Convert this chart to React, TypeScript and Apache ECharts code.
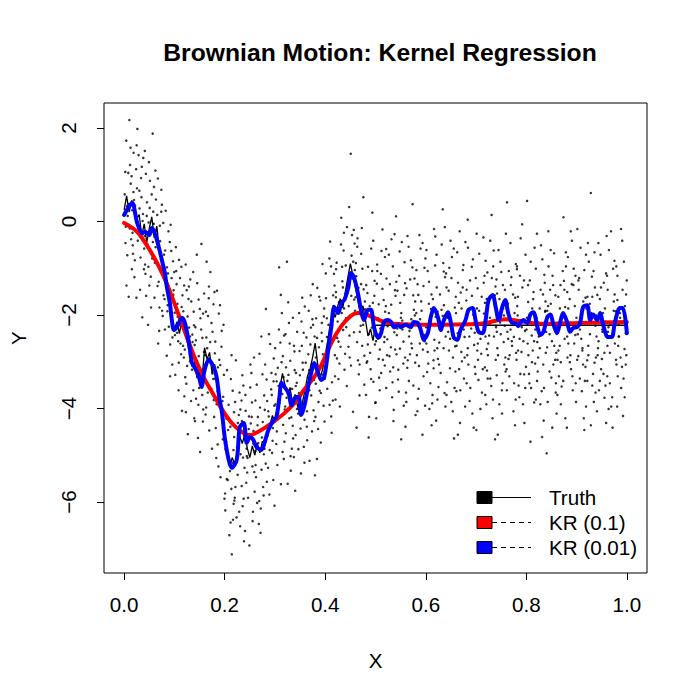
import React, { useEffect, useRef } from "react";
import * as echarts from "echarts";

const FONT = "Liberation Sans";

const chartTitle = "Brownian Motion: Kernel Regression";
const xTicks = [0, 0.2, 0.4, 0.6, 0.8, 1.0];
const yTicks = [-6, -4, -2, 0, 2];
const legendLabels = ["Truth", "KR (0.1)", "KR (0.01)"];
const legendFill = ["#000000", "#ff0000", "#0000ff"];
const legendDashed = [false, true, true];

// noisy observations [x, y], first batch
const noisyObsA: [number, number][] = [
[0.0132,0.81],[0.0027,-0.46],[0.0188,1.47],[0.0071,0.12],[0.0154,-1.02],[0.0043,1.73],[0.0105,2.17],[0.0166,-0.24],[0.0012,0.58],[0.0091,-1.61],[0.0149,0.97],[0.0058,0.33],[0.0177,-0.69],[0.0118,1.21],[0.0035,-0.11],[0.0197,0.46],[0.0083,1.04],[0.0140,-0.38],
[0.0264,1.98],[0.0213,-0.83],[0.0345,0.52],[0.0292,-0.27],[0.0381,1.36],[0.0227,0.09],[0.0318,-1.46],[0.0256,0.71],[0.0399,-0.58],[0.0239,1.12],[0.0307,0.28],[0.0362,-2.05],[0.0283,-0.14],[0.0337,0.93],[0.0205,-1.19],[0.0374,0.16],[0.0249,1.63],[0.0326,-0.77],
[0.0417,-0.92],[0.0568,1.88],[0.0455,0.41],[0.0502,-1.37],[0.0589,-0.05],[0.0433,1.02],[0.0521,-0.66],[0.0476,-2.21],[0.0549,0.58],[0.0408,-0.31],[0.0493,1.27],[0.0536,-1.84],[0.0462,-0.48],[0.0579,0.21],[0.0425,-1.12],[0.0514,0.87],[0.0487,-0.02],[0.0558,-0.79],
[0.0633,0.47],[0.0784,-1.58],[0.0612,-0.88],[0.0751,0.36],[0.0697,-2.34],[0.0645,-0.19],[0.0728,-1.07],[0.0671,0.92],[0.0793,-0.71],[0.0604,-1.63],[0.0716,-0.42],[0.0659,0.14],[0.0767,-2.02],[0.0688,-1.29],[0.0741,0.68],[0.0626,-0.55],[0.0779,-0.03],[0.0703,-1.84],
[0.0815,-0.62],[0.0962,-2.48],[0.0873,-1.11],[0.0926,-0.07],[0.0848,-2.87],[0.0991,-1.74],[0.0836,-1.39],[0.0908,-0.44],[0.0957,-3.06],[0.0861,-1.92],[0.0944,-1.21],[0.0827,0.23],[0.0889,-2.25],[0.0973,-0.85],[0.0804,-1.66],[0.0917,-2.63],[0.0852,-0.98],[0.0984,-1.47],
[0.1043,-1.34],[0.1187,-2.91],[0.1092,-0.82],[0.1126,-2.17],[0.1018,-3.28],[0.1161,-1.58],[0.1075,-2.56],[0.1139,-0.97],[0.1007,-1.95],[0.1198,-3.74],[0.1054,-2.38],[0.1112,-1.21],[0.1173,-2.66],[0.1029,-0.55],[0.1088,-3.02],[0.1145,-1.83],[0.1066,-2.04],[0.1152,-4.05],
[0.1237,-3.47],[0.1281,-1.66],[0.1362,-2.58],[0.1209,-2.13],[0.1394,-4.21],[0.1316,-1.24],[0.1253,-3.09],[0.1348,-2.84],[0.1225,-0.92],[0.1377,-3.61],[0.1294,-2.27],[0.1336,-1.71],[0.1268,-4.55],[0.1309,-2.99],[0.1384,-1.93],[0.1216,-3.33],[0.1357,-2.42],[0.1245,-1.47],
[0.1418,-2.26],[0.1574,-4.02],[0.1446,-0.71],[0.1523,-3.41],[0.1485,-2.88],[0.1592,-1.54],[0.1431,-3.79],[0.1557,-2.49],[0.1469,-4.63],[0.1506,-1.87],[0.1581,-3.15],[0.1403,-2.64],[0.1538,-0.48],[0.1492,-3.56],[0.1454,-1.32],[0.1566,-4.28],[0.1517,-2.07],[0.1477,-3.92],
[0.1627,-1.93],[0.1783,-3.82],[0.1652,-2.71],[0.1716,-1.08],[0.1694,-4.47],[0.1608,-3.19],[0.1759,-2.36],[0.1641,-0.86],[0.1735,-3.58],[0.1668,-2.02],[0.1797,-1.51],[0.1619,-4.13],[0.1702,-2.93],[0.1772,-3.37],[0.1683,-1.64],[0.1748,-4.86],[0.1636,-2.48],[0.1725,-3.04],
[0.1814,-2.57],[0.1962,-4.66],[0.1839,-3.91],[0.1907,-1.79],[0.1876,-5.24],[0.1985,-3.28],[0.1823,-4.42],[0.1941,-2.34],[0.1858,-3.63],[0.1996,-5.93],[0.1893,-2.96],[0.1928,-4.08],[0.1847,-1.48],[0.1971,-3.75],[0.1804,-2.82],[0.1917,-5.47],[0.1866,-3.12],[0.1953,-4.29],
[0.2036,-4.22],[0.2178,-6.04],[0.2061,-5.53],[0.2124,-3.37],[0.2093,-6.71],[0.2017,-4.87],[0.2155,-5.16],[0.2142,-7.12],[0.2078,-3.92],[0.2189,-4.61],[0.2008,-5.82],[0.2113,-4.39],[0.2166,-6.38],[0.2047,-3.18],[0.2105,-5.34],[0.2193,-5.97],[0.2029,-4.71],[0.2137,-2.86],
[0.2213,-5.68],[0.2372,-3.51],[0.2246,-4.83],[0.2308,-6.52],[0.2281,-4.14],[0.2394,-5.27],[0.2224,-2.97],[0.2357,-6.09],[0.2269,-4.46],[0.2335,-3.83],[0.2202,-5.91],[0.2317,-4.98],[0.2385,-6.84],[0.2258,-5.42],[0.2296,-3.66],[0.2343,-4.27],[0.2236,-6.33],[0.2366,-5.05],
[0.2417,-4.05],[0.2563,-6.21],[0.2448,-5.37],[0.2532,-3.24],[0.2471,-4.69],[0.2596,-5.78],[0.2405,-6.62],[0.2519,-4.32],[0.2584,-2.91],[0.2456,-5.06],[0.2543,-3.87],[0.2429,-5.59],[0.2574,-4.48],[0.2492,-6.93],[0.2508,-3.55],[0.2437,-4.86],[0.2551,-5.24],[0.2483,-4.17],
[0.2623,-5.47],[0.2786,-3.72],[0.2654,-4.36],[0.2718,-6.14],[0.2692,-2.83],[0.2607,-4.91],[0.2765,-5.68],[0.2638,-3.49],[0.2741,-4.62],[0.2679,-6.47],[0.2797,-4.03],[0.2615,-5.21],[0.2703,-3.98],[0.2774,-5.86],[0.2667,-4.74],[0.2729,-2.46],[0.2646,-6.02],[0.2758,-4.29],
[0.2834,-3.38],[0.2967,-5.53],[0.2812,-4.71],[0.2905,-2.62],[0.2878,-4.17],[0.2991,-6.08],[0.2846,-3.84],[0.2943,-4.95],[0.2821,-1.87],[0.2925,-3.59],[0.2863,-5.27],[0.2958,-4.42],[0.2804,-3.06],[0.2889,-5.84],[0.2976,-2.93],[0.2851,-4.58],[0.2937,-3.71],[0.2895,-4.89],
[0.3027,-4.76],[0.3182,-2.44],[0.3056,-3.13],[0.3119,-5.62],[0.3091,-3.88],[0.3004,-2.71],[0.3163,-4.35],[0.3048,-5.21],[0.3137,-1.96],[0.3072,-3.52],[0.3195,-4.02],[0.3015,-3.27],[0.3108,-2.59],[0.3176,-5.08],[0.3039,-4.49],[0.3146,-3.69],[0.3083,-0.98],[0.3157,-2.88],
[0.3216,-4.53],[0.3388,-2.78],[0.3247,-3.41],[0.3315,-5.33],[0.3279,-2.17],[0.3204,-3.96],[0.3362,-4.64],[0.3238,-0.86],[0.3341,-3.58],[0.3293,-2.61],[0.3376,-5.04],[0.3221,-3.12],[0.3327,-4.19],[0.3264,-1.73],[0.3399,-3.83],[0.3253,-5.61],[0.3305,-2.98],[0.3354,-4.37],
[0.3418,-3.24],[0.3587,-5.16],[0.3442,-2.36],[0.3509,-4.43],[0.3476,-3.67],[0.3593,-1.82],[0.3403,-5.76],[0.3551,-3.02],[0.3461,-4.11],[0.3528,-2.14],[0.3574,-4.82],[0.3434,-3.45],[0.3517,-5.39],[0.3489,-2.77],[0.3562,-3.91],[0.3411,-4.57],[0.3543,-1.63],[0.3496,-3.29],
[0.3627,-2.48],[0.3781,-4.27],[0.3656,-3.34],[0.3712,-1.58],[0.3689,-5.12],[0.3604,-3.86],[0.3758,-2.21],[0.3641,-4.68],[0.3733,-3.05],[0.3672,-1.91],[0.3796,-5.43],[0.3619,-3.57],[0.3705,-2.63],[0.3767,-4.04],[0.3682,-3.18],[0.3744,-2.09],[0.3633,-4.39],[0.3721,-3.72],
[0.3819,-2.07],[0.3968,-3.94],[0.3843,-1.42],[0.3911,-4.73],[0.3874,-2.69],[0.3992,-3.36],[0.3806,-4.18],[0.3947,-0.91],[0.3861,-3.11],[0.3928,-2.38],[0.3835,-5.08],[0.3979,-1.86],[0.3889,-3.62],[0.3953,-2.84],[0.3812,-3.47],[0.3903,-1.69],[0.3857,-4.44],[0.3937,-2.56],
[0.4024,-3.06],[0.4186,-1.37],[0.4052,-2.62],[0.4119,-4.17],[0.4083,-0.79],[0.4007,-2.93],[0.4163,-1.81],[0.4041,-3.58],[0.4137,-2.21],[0.4098,-0.43],[0.4195,-3.31],[0.4015,-1.64],[0.4128,-4.52],[0.4069,-2.74],[0.4174,-1.12],[0.4033,-2.07],[0.4151,-3.83],[0.4106,-2.46],
[0.4216,-1.02],[0.4383,-3.17],[0.4247,-2.14],[0.4319,0.08],[0.4272,-1.73],[0.4205,-3.81],[0.4366,-0.62],[0.4238,-2.49],[0.4341,-1.28],[0.4291,-3.96],[0.4395,-2.83],[0.4227,-0.88],[0.4328,-1.96],[0.4262,-3.37],[0.4357,-2.32],[0.4214,-1.51],[0.4304,-2.68],[0.4372,-0.24],
[0.4419,-2.26],[0.4584,-0.47],[0.4443,-1.53],[0.4512,-3.08],[0.4476,0.31],[0.4593,-1.91],[0.4408,-0.94],[0.4508,1.45],[0.4461,-2.68],[0.4537,-1.22],[0.4429,-3.52],[0.4568,-0.18],[0.4491,-2.03],[0.4553,-4.07],[0.4437,-1.39],[0.4524,-0.73],[0.4482,-2.44],[0.4576,-1.67],
[0.4617,-1.17],[0.4779,-2.87],[0.4643,-0.36],[0.4706,-2.23],[0.4681,-3.72],[0.4602,-1.62],[0.4758,0.52],[0.4635,-2.58],[0.4739,-1.01],[0.4668,-3.27],[0.4794,-1.88],[0.4624,-4.41],[0.4715,-0.69],[0.4687,-2.36],[0.4764,-1.45],[0.4652,-2.97],[0.4728,-0.14],[0.4697,-1.96],
[0.4823,-3.02],[0.4982,-1.27],[0.4847,-2.63],[0.4915,-0.58],[0.4871,-4.18],[0.4806,-1.98],[0.4958,-3.43],[0.4839,-1.53],[0.4937,0.19],[0.4892,-2.81],[0.4996,-3.88],[0.4815,-1.36],[0.4926,-2.27],[0.4864,-4.62],[0.4973,-2.04],[0.4852,-0.97],[0.4903,-3.16],[0.4948,-1.74],
[0.5027,-1.33],[0.5184,-3.08],[0.5052,-2.07],[0.5119,-0.63],[0.5086,-2.74],[0.5003,-3.87],[0.5163,-1.68],[0.5041,-2.42],[0.5138,-0.17],[0.5071,-3.34],[0.5192,-1.93],[0.5015,-4.21],[0.5107,-1.12],[0.5174,-2.58],[0.5064,-1.77],[0.5149,-2.96],[0.5033,-0.92],[0.5095,-2.29],
[0.5213,-3.56],[0.5387,-1.47],[0.5241,-2.24],[0.5318,-0.38],[0.5279,-2.88],[0.5206,-1.81],[0.5362,-4.03],[0.5234,-2.52],[0.5345,-0.96],[0.5291,-3.21],[0.5398,-1.59],[0.5227,-2.13],[0.5331,-3.76],[0.5266,-0.71],[0.5374,-2.37],[0.5219,-1.22],[0.5306,-2.69],[0.5352,-3.12],
[0.5424,-2.43],[0.5578,-0.87],[0.5447,-3.38],[0.5513,-1.96],[0.5486,-2.72],[0.5409,0.11],[0.5562,-3.94],[0.5437,-1.48],[0.5535,-2.31],[0.5472,-1.16],[0.5596,-4.39],[0.5418,-2.84],[0.5523,-0.44],[0.5491,-1.74],[0.5557,-2.57],[0.5453,-3.17],[0.5587,-1.32],[0.5506,-2.06],
[0.5632,-3.13],[0.5781,-2.01],[0.5658,-0.54],[0.5714,-2.61],[0.5689,-1.24],[0.5607,-3.66],[0.5763,-1.89],[0.5641,-2.97],[0.5738,0.37],[0.5676,-2.34],[0.5797,-4.14],[0.5618,-1.43],[0.5726,-2.71],[0.5664,-3.41],[0.5751,-1.58],[0.5623,-2.19],[0.5704,-0.83],[0.5789,-3.02],
[0.5814,-1.04],[0.5979,-2.56],[0.5842,-3.79],[0.5908,-1.71],[0.5873,-0.29],[0.5805,-2.21],[0.5956,-3.31],[0.5837,-1.34],[0.5934,-4.56],[0.5886,-2.09],[0.5993,-0.79],[0.5823,-2.86],[0.5917,-1.91],[0.5861,-3.58],[0.5968,-2.43],[0.5851,-1.57],[0.5942,-2.74],[0.5896,-0.58],
[0.6021,-2.41],[0.6186,-0.94],[0.6049,-3.04],[0.6113,-1.56],[0.6072,-4.01],[0.6008,-2.26],[0.6164,-0.16],[0.6038,-2.79],[0.6142,-1.66],[0.6091,-3.46],[0.6197,-2.04],[0.6013,-0.61],[0.6128,-3.89],[0.6064,-1.29],[0.6171,-2.53],[0.6027,-3.22],[0.6105,-1.87],[0.6153,-2.97],
[0.6229,-2.71],[0.6382,-1.19],[0.6253,-3.54],[0.6317,-0.49],[0.6285,-2.14],[0.6206,-4.26],[0.6361,-1.79],[0.6241,-2.94],[0.6348,-0.89],[0.6296,-3.24],[0.6394,-2.46],[0.6217,-1.41],[0.6337,0.26],[0.6268,-2.59],[0.6373,-3.67],[0.6235,-1.93],[0.6309,-2.33],[0.6357,-1.07],
[0.6412,-3.71],[0.6578,-1.84],[0.6446,-2.36],[0.6519,-0.76],[0.6481,-3.14],[0.6403,-1.11],[0.6563,-4.64],[0.6437,-2.04],[0.6541,-2.91],[0.6492,-0.41],[0.6597,-1.61],[0.6424,-3.44],[0.6528,-2.21],[0.6468,-0.99],[0.6584,-2.67],[0.6455,-1.48],[0.6507,-3.86],[0.6553,-2.49],
[0.6616,-2.54],[0.6783,-3.96],[0.6642,-1.31],[0.6707,-2.79],[0.6674,-0.21],[0.6601,-1.96],[0.6759,-3.36],[0.6633,-2.39],[0.6736,-1.04],[0.6681,-4.31],[0.6794,-2.11],[0.6625,-0.66],[0.6718,-2.99],[0.6657,-1.74],[0.6772,-2.47],[0.6609,-3.63],[0.6695,-1.52],[0.6748,-0.93],
[0.6812,-1.46],[0.6987,-3.26],[0.6839,-0.56],[0.6904,-2.29],[0.6871,-3.84],[0.6807,-1.69],[0.6962,-2.64],[0.6834,0.04],[0.6943,-1.99],[0.6886,-3.56],[0.6995,-1.21],[0.6826,-2.86],[0.6927,-4.11],[0.6859,-1.89],[0.6974,-2.38],[0.6847,-3.06],[0.6915,-0.97],[0.6958,-2.17],
[0.7024,-2.76],[0.7191,-0.84],[0.7047,-3.39],[0.7112,-1.61],[0.7079,-2.19],[0.7006,-4.46],[0.7168,-1.16],[0.7039,-2.96],[0.7146,-0.34],[0.7088,-2.51],[0.7183,-3.71],[0.7016,-1.86],[0.7127,-2.36],[0.7064,-0.69],[0.7175,-3.12],[0.7031,-1.43],[0.7103,-2.83],[0.7157,-1.97],
[0.7217,-3.19],[0.7386,-1.39],[0.7242,-2.61],[0.7309,0.14],[0.7276,-2.06],[0.7204,-3.91],[0.7363,-1.76],[0.7236,-2.86],[0.7341,-0.96],[0.7284,-3.36],[0.7397,-2.26],[0.7225,-1.09],[0.7328,-4.21],[0.7261,-2.44],[0.7372,-1.58],[0.7213,-2.73],[0.7302,-3.52],[0.7351,-0.62],
[0.7418,-1.54],[0.7583,-2.91],[0.7447,-0.61],[0.7513,-3.61],[0.7479,-2.16],[0.7406,-1.24],[0.7562,-3.06],[0.7432,-4.56],[0.7538,-1.86],[0.7491,-2.41],[0.7594,-0.26],[0.7424,-2.71],[0.7526,-3.46],[0.7465,-1.66],[0.7571,-2.23],[0.7411,-3.29],[0.7502,-1.08],[0.7549,-2.58],
[0.7623,-2.36],[0.7788,-3.81],[0.7652,-1.06],[0.7716,-2.66],[0.7684,-0.46],[0.7608,-3.16],[0.7765,-1.96],[0.7639,-2.51],[0.7743,-4.06],[0.7691,-1.36],[0.7796,-2.81],[0.7616,0.41],[0.7727,-2.11],[0.7661,-3.31],[0.7779,-1.63],[0.7645,-2.94],[0.7703,-1.19],[0.7752,-2.47],
[0.7819,-1.81],[0.7984,-0.71],[0.7846,-3.51],[0.7908,-2.26],[0.7873,-1.16],[0.7805,-2.96],[0.7962,-4.31],[0.7834,-1.61],[0.7941,-2.56],[0.7887,-0.36],[0.7993,-3.11],[0.7827,-2.01],[0.7921,-1.41],[0.7861,-3.76],[0.7974,-2.34],[0.7812,-1.02],[0.7904,-2.79],[0.7956,-3.27],
[0.8027,-2.61],[0.8189,-1.01],[0.8053,-3.26],[0.8116,-1.86],[0.8082,-4.71],[0.8004,-2.31],[0.8164,-0.56],[0.8041,-2.86],[0.8143,-1.51],[0.8094,-3.56],[0.8197,-2.11],[0.8015,0.44],[0.8128,-2.76],[0.8069,-1.26],[0.8176,-3.04],[0.8036,-1.72],[0.8107,-2.44],[0.8155,-3.87],
[0.8213,-3.41],[0.8382,-1.71],[0.8247,-2.46],[0.8318,-0.81],[0.8279,-3.91],[0.8205,-2.06],[0.8366,-1.31],[0.8234,-2.91],[0.8345,-4.26],[0.8292,-0.51],[0.8394,-2.36],[0.8226,-3.21],[0.8331,-1.56],[0.8268,-2.71],[0.8373,-1.93],[0.8218,-2.58],[0.8305,-3.63],[0.8357,-1.14],
[0.8416,-1.91],[0.8584,-3.66],[0.8441,-0.96],[0.8509,-2.56],[0.8473,-1.46],[0.8404,-4.96],[0.8563,-2.21],[0.8438,-0.21],[0.8537,-3.06],[0.8486,-1.76],[0.8596,-2.81],[0.8425,-3.86],[0.8521,-1.16],[0.8462,-2.41],[0.8578,-1.58],[0.8413,-2.69],[0.8498,-3.34],[0.8552,-0.68],
[0.8621,-2.96],[0.8786,-0.66],[0.8648,-3.31],[0.8712,-2.01],[0.8679,-1.36],[0.8603,-4.11],[0.8761,-2.51],[0.8636,-1.61],[0.8739,0.09],[0.8685,-3.01],[0.8793,-2.16],[0.8617,-3.71],[0.8724,-1.06],[0.8664,-2.66],[0.8772,-1.83],[0.8629,-2.38],[0.8702,-3.53],[0.8748,-1.27],
[0.8814,-1.51],[0.8982,-3.46],[0.8843,-2.26],[0.8907,-0.41],[0.8876,-2.86],[0.8806,-4.41],[0.8964,-1.81],[0.8835,-2.61],[0.8942,-1.01],[0.8889,-3.16],[0.8996,-2.06],[0.8827,-0.76],[0.8923,-3.61],[0.8862,-1.66],[0.8975,-2.43],[0.8818,-2.91],[0.8903,-1.34],[0.8953,-2.18],
[0.9023,-2.41],[0.9187,-3.96],[0.9051,-1.21],[0.9114,-2.76],[0.9078,-0.56],[0.9007,-2.16],[0.9164,-3.41],[0.9041,-1.46],[0.9143,-4.21],[0.9092,-2.51],[0.9196,-1.86],[0.9015,-0.16],[0.9128,-3.06],[0.9066,-2.31],[0.9177,-1.63],[0.9034,-2.88],[0.9105,-3.63],[0.9153,-1.04],
[0.9216,-1.61],[0.9384,-2.91],[0.9243,-0.86],[0.9312,-3.51],[0.9277,-2.11],[0.9283,0.61],[0.9364,-1.41],[0.9232,-2.66],[0.9343,-3.86],[0.9291,-1.96],[0.9396,-2.46],[0.9224,-0.46],[0.9327,-3.26],[0.9263,-1.76],[0.9375,-2.23],[0.9211,-2.97],[0.9304,-1.18],[0.9356,-3.02],
[0.9418,-2.86],[0.9586,-1.11],[0.9445,-3.61],[0.9511,-2.31],[0.9476,-0.71],[0.9404,-4.06],[0.9563,-1.86],[0.9437,-2.56],[0.9541,-1.31],[0.9487,-3.16],[0.9597,-0.31],[0.9425,-2.71],[0.9524,-1.96],[0.9462,-3.41],[0.9576,-2.14],[0.9413,-1.57],[0.9503,-2.94],[0.9554,-3.77],
[0.9617,-1.46],[0.9783,-2.96],[0.9642,-0.61],[0.9708,-3.76],[0.9673,-2.21],[0.9605,-1.16],[0.9761,-2.61],[0.9636,-4.01],[0.9739,-1.71],[0.9684,-0.21],[0.9792,-3.06],[0.9624,-2.36],[0.9726,-1.01],[0.9663,-2.81],[0.9774,-1.92],[0.9611,-3.31],[0.9697,-2.47],[0.9752,-0.84],
[0.9818,-3.31],[0.9984,-1.56],[0.9843,-2.46],[0.9907,-0.41],[0.9874,-2.91],[0.9806,-3.96],[0.9962,-1.81],[0.9835,-2.21],[0.9941,-0.86],[0.9886,-3.56],[0.9997,-1.26],[0.9827,-2.66],[0.9923,-4.16],[0.9861,-1.96],[0.9976,-2.39],[0.9812,-1.68],[0.9903,-3.11],[0.9953,-2.73]
];

// noisy observations [x, y], second batch
const noisyObsB: [number, number][] = [
[0.0064,-0.72],[0.0159,0.24],[0.0023,1.06],[0.0112,-0.15],[0.0186,0.63],[0.0047,-1.37],[0.0128,1.58],[0.0095,0.37],[0.0171,-0.51],
[0.0271,-0.41],[0.0352,1.17],[0.0218,0.34],[0.0394,-1.02],[0.0303,0.66],[0.0245,-1.63],[0.0368,0.01],[0.0287,1.42],[0.0331,-0.22],
[0.0449,0.12],[0.0531,-1.18],[0.0412,1.51],[0.0572,-0.44],[0.0483,-0.97],[0.0595,0.74],[0.0438,-1.59],[0.0509,0.29],[0.0553,-0.16],
[0.0664,-1.38],[0.0739,0.21],[0.0608,-0.27],[0.0787,-1.12],[0.0692,-0.58],[0.0623,1.09],[0.0756,-1.91],[0.0711,-0.09],[0.0677,-2.61],
[0.0866,-1.79],[0.0938,-0.63],[0.0811,-2.31],[0.0997,-1.08],[0.0882,-0.21],[0.0951,-2.06],[0.0841,-1.28],[0.0914,-3.31],[0.0978,-1.57],
[0.1061,-1.76],[0.1133,-2.84],[0.1012,-2.43],[0.1194,-1.37],[0.1083,-3.61],[0.1157,-2.24],[0.1037,-1.06],[0.1121,-2.61],[0.1178,-1.92],
[0.1263,-2.03],[0.1331,-3.84],[0.1207,-2.74],[0.1389,-2.22],[0.1288,-1.39],[0.1352,-3.17],[0.1229,-4.08],[0.1311,-2.46],[0.1374,-1.08],
[0.1463,-3.06],[0.1532,-2.31],[0.1409,-4.27],[0.1589,-2.79],[0.1482,-1.67],[0.1554,-3.71],[0.1427,-2.54],[0.1511,-4.93],[0.1571,-1.97],
[0.1664,-3.66],[0.1738,-2.17],[0.1613,-2.86],[0.1791,-4.18],[0.1688,-1.39],[0.1756,-3.25],[0.1632,-3.98],[0.1711,-2.58],[0.1777,-1.77],
[0.1861,-4.77],[0.1936,-2.68],[0.1809,-3.36],[0.1989,-4.41],[0.1884,-1.97],[0.1956,-3.84],[0.1832,-5.06],[0.1912,-3.07],[0.1977,-2.21],
[0.2068,-4.46],[0.2133,-5.72],[0.2012,-6.18],[0.2186,-4.08],[0.2087,-5.07],[0.2159,-3.62],[0.2041,-5.51],[0.2118,-6.44],[0.2174,-4.89],
[0.2263,-4.31],[0.2338,-5.66],[0.2207,-3.86],[0.2391,-4.58],[0.2289,-6.21],[0.2352,-3.29],[0.2228,-5.14],[0.2313,-4.02],[0.2377,-5.93],
[0.2466,-5.91],[0.2537,-4.18],[0.2413,-3.71],[0.2589,-5.36],[0.2478,-4.44],[0.2556,-6.41],[0.2441,-5.02],[0.2512,-3.06],[0.2568,-4.75],
[0.2661,-4.18],[0.2734,-5.31],[0.2612,-3.83],[0.2791,-4.86],[0.2687,-5.98],[0.2752,-3.27],[0.2631,-4.52],[0.2713,-6.66],[0.2779,-4.98],
[0.2868,-4.06],[0.2931,-3.24],[0.2817,-5.18],[0.2987,-3.94],[0.2881,-2.41],[0.2953,-4.69],[0.2838,-5.57],[0.2912,-4.33],[0.2972,-3.42],
[0.3063,-4.12],[0.3131,-3.01],[0.3011,-3.91],[0.3188,-4.71],[0.3079,-2.31],[0.3152,-4.93],[0.3034,-3.42],[0.3117,-1.57],[0.3171,-3.33],
[0.3268,-3.28],[0.3336,-4.86],[0.3209,-2.41],[0.3392,-3.18],[0.3286,-4.21],[0.3357,-2.06],[0.3231,-3.77],[0.3311,-5.02],[0.3379,-2.66],
[0.3466,-4.87],[0.3534,-2.66],[0.3414,-3.52],[0.3588,-4.24],[0.3481,-1.96],[0.3556,-3.17],[0.3437,-4.01],[0.3512,-3.74],[0.3571,-2.38],
[0.3663,-2.84],[0.3737,-4.49],[0.3612,-3.02],[0.3789,-2.46],[0.3686,-3.61],[0.3752,-1.34],[0.3638,-4.06],[0.3716,-2.27],[0.3774,-3.39],
[0.3866,-3.86],[0.3932,-2.17],[0.3814,-2.91],[0.3986,-4.28],[0.3881,-1.61],[0.3957,-3.28],[0.3838,-2.49],[0.3914,-3.67],[0.3973,-2.03],
[0.4064,-2.21],[0.4135,-3.44],[0.4011,-1.11],[0.4191,-2.86],[0.4087,-3.92],[0.4158,-1.58],[0.4036,-2.47],[0.4116,-0.96],[0.4179,-2.02],
[0.4264,-2.57],[0.4336,-0.97],[0.4212,-1.62],[0.4388,-2.14],[0.4283,-3.04],[0.4351,-1.41],[0.4233,-2.93],[0.4314,-0.49],[0.4376,-1.86],
[0.4467,-1.81],[0.4533,-0.29],[0.4412,-2.07],[0.4589,-1.04],[0.4486,-2.91],[0.4557,-0.86],[0.4433,-0.12],[0.4518,-1.59],[0.4572,-2.37],
[0.4661,-1.42],[0.4736,-2.66],[0.4611,-0.89],[0.4789,-1.71],[0.4684,-3.06],[0.4753,-2.21],[0.4637,-0.54],[0.4713,-1.34],[0.4777,-3.49],
[0.4866,-2.41],[0.4934,-1.06],[0.4812,-3.71],[0.4989,-2.63],[0.4884,-1.81],[0.4955,-0.41],[0.4836,-2.99],[0.4912,-3.37],[0.4977,-1.59],
[0.5063,-2.94],[0.5137,-1.44],[0.5011,-2.56],[0.5188,-0.76],[0.5084,-3.61],[0.5156,-2.16],[0.5036,-1.06],[0.5113,-3.24],[0.5179,-2.47],
[0.5266,-1.96],[0.5339,-3.44],[0.5212,-0.59],[0.5391,-2.74],[0.5286,-1.34],[0.5357,-4.27],[0.5231,-2.86],[0.5313,-1.78],[0.5378,-0.27],
[0.5462,-3.64],[0.5533,-2.12],[0.5414,-1.29],[0.5588,-2.91],[0.5481,-0.64],[0.5554,-3.04],[0.5433,-2.29],[0.5511,-4.66],[0.5571,-1.57],
[0.5667,-2.46],[0.5734,-0.98],[0.5613,-3.86],[0.5789,-1.71],[0.5686,-2.84],[0.5753,-3.51],[0.5637,-0.31],[0.5712,-2.09],[0.5776,-1.22],
[0.5865,-3.09],[0.5937,-0.46],[0.5811,-1.96],[0.5986,-3.94],[0.5882,-2.61],[0.5954,-1.38],[0.5833,-4.06],[0.5915,-2.36],[0.5973,-0.99],
[0.6061,-1.76],[0.6134,-3.71],[0.6012,-2.61],[0.6189,-0.32],[0.6088,-2.21],[0.6156,-3.14],[0.6037,-1.06],[0.6116,-4.36],[0.6174,-2.76],
[0.6264,-3.06],[0.6338,-2.02],[0.6214,-0.71],[0.6391,-3.96],[0.6283,-1.56],[0.6354,-2.71],[0.6232,-3.81],[0.6313,-1.89],[0.6378,-0.12],
[0.6461,-2.76],[0.6537,-4.06],[0.6413,-1.41],[0.6589,-3.21],[0.6484,-2.51],[0.6556,-0.58],[0.6431,-2.06],[0.6511,-1.21],[0.6572,-3.56],
[0.6663,-3.16],[0.6734,-1.41],[0.6612,-2.66],[0.6788,-0.44],[0.6686,-3.61],[0.6755,-2.31],[0.6638,-4.56],[0.6712,-1.86],[0.6773,-2.91],
[0.6866,-2.46],[0.6938,-0.81],[0.6813,-3.46],[0.6989,-2.06],[0.6881,-1.26],[0.6953,-4.41],[0.6835,-2.71],[0.6918,-1.59],[0.6976,-3.11],
[0.7061,-1.91],[0.7133,-3.16],[0.7012,-0.26],[0.7188,-2.46],[0.7086,-4.01],[0.7152,-1.31],[0.7035,-2.61],[0.7117,-3.66],[0.7177,-1.74],
[0.7264,-2.21],[0.7337,-3.81],[0.7211,-1.66],[0.7391,-2.96],[0.7283,-0.41],[0.7356,-2.46],[0.7232,-3.36],[0.7314,-1.21],[0.7378,-4.66],
[0.7463,-3.91],[0.7534,-1.36],[0.7413,-2.36],[0.7587,-3.21],[0.7484,-0.86],[0.7553,-2.01],[0.7436,-2.86],[0.7517,-4.11],[0.7574,-1.46],
[0.7667,-2.86],[0.7735,-1.56],[0.7612,-3.61],[0.7791,-0.91],[0.7686,-2.31],[0.7757,-3.46],[0.7634,-1.76],[0.7711,-2.56],[0.7774,-4.36],
[0.7866,-2.51],[0.7933,-3.91],[0.7814,-0.96],[0.7988,-2.16],[0.7881,-3.26],[0.7953,-1.26],[0.7836,-2.76],[0.7917,-0.06],[0.7979,-3.56],
[0.8062,-3.46],[0.8137,-1.66],[0.8011,-2.06],[0.8189,-3.81],[0.8087,-0.86],[0.8154,-2.56],[0.8034,-1.36],[0.8113,-3.01],[0.8178,-2.31],
[0.8266,-1.86],[0.8336,-3.06],[0.8211,-0.26],[0.8387,-2.81],[0.8284,-1.46],[0.8352,-3.56],[0.8236,-2.16],[0.8313,-4.61],[0.8376,-1.91],
[0.8462,-3.21],[0.8533,-1.36],[0.8414,-2.21],[0.8589,-3.46],[0.8484,-0.61],[0.8556,-2.66],[0.8433,-1.81],[0.8516,-4.41],[0.8573,-2.96],
[0.8667,-1.86],[0.8734,-3.41],[0.8613,-2.26],[0.8788,-0.96],[0.8686,-3.91],[0.8756,-1.46],[0.8637,-2.76],[0.8714,-2.06],[0.8776,-4.21],
[0.8865,-3.01],[0.8936,-1.36],[0.8812,-2.46],[0.8989,-3.86],[0.8883,-0.21],[0.8953,-2.61],[0.8834,-1.86],[0.8916,-3.31],[0.8977,-1.16],
[0.9064,-3.36],[0.9133,-1.71],[0.9012,-2.96],[0.9187,-0.71],[0.9085,-2.21],[0.9153,-4.46],[0.9035,-1.26],[0.9117,-2.71],[0.9176,-3.11],
[0.9265,-2.41],[0.9336,-1.06],[0.9213,-3.41],[0.9389,-2.01],[0.9283,-4.36],[0.9356,-0.66],[0.9234,-2.86],[0.9312,-1.61],[0.9377,-3.66],
[0.9463,-1.66],[0.9535,-3.26],[0.9414,-2.06],[0.9588,-4.31],[0.9484,-1.41],[0.9553,-2.81],[0.9433,-0.46],[0.9514,-2.36],[0.9574,-3.51],
[0.9662,-3.46],[0.9737,-1.91],[0.9613,-2.66],[0.9789,-0.96],[0.9688,-3.96],[0.9756,-1.56],[0.9634,-2.26],[0.9715,-4.41],[0.9776,-2.06],
[0.9866,-2.06],[0.9933,-3.36],[0.9812,-1.16],[0.9988,-2.86],[0.9884,-0.16],[0.9956,-3.76],[0.9837,-2.46],[0.9914,-1.46],[0.9977,-3.06]
];

// true Brownian path [x, y]
const truthPath: [number, number][] = [
[0.000,0.25],[0.005,0.55],[0.010,0.20],[0.015,0.45],[0.020,0.30],[0.025,0.05],[0.030,0.15],[0.035,-0.30],[0.040,-0.05],[0.045,-0.45],
[0.050,-0.15],[0.055,0.10],[0.060,-0.35],[0.065,-0.10],[0.070,-0.60],[0.075,-0.85],[0.080,-1.05],[0.085,-1.45],[0.090,-1.70],[0.095,-2.05],
[0.100,-2.30],[0.105,-2.15],[0.110,-2.40],[0.115,-2.10],[0.120,-2.35],[0.125,-2.55],[0.130,-2.80],[0.135,-3.10],[0.140,-3.00],[0.145,-3.35],
[0.150,-3.20],[0.155,-3.40],[0.160,-2.70],[0.165,-2.95],[0.170,-2.80],[0.175,-3.25],[0.180,-3.05],[0.185,-3.45],[0.190,-3.70],[0.195,-4.10],
[0.200,-4.55],[0.205,-4.95],[0.210,-5.25],[0.215,-5.05],[0.220,-5.20],[0.225,-4.95],[0.230,-4.60],[0.235,-4.75],[0.240,-4.55],[0.245,-4.85],
[0.250,-5.05],[0.255,-4.80],[0.260,-5.00],[0.265,-4.75],[0.270,-4.95],[0.275,-4.70],[0.280,-4.80],[0.285,-4.50],[0.290,-4.35],[0.295,-4.15],
[0.300,-4.30],[0.305,-3.95],[0.310,-3.55],[0.315,-3.25],[0.320,-3.50],[0.325,-3.70],[0.330,-3.55],[0.335,-3.90],[0.340,-3.70],[0.345,-3.95],
[0.350,-4.15],[0.355,-3.85],[0.360,-3.60],[0.365,-3.30],[0.370,-3.15],[0.375,-2.90],[0.380,-2.60],[0.385,-3.05],[0.390,-3.35],[0.395,-3.15],
[0.400,-2.85],[0.405,-2.55],[0.410,-2.20],[0.415,-1.90],[0.420,-2.05],[0.425,-1.80],[0.430,-1.65],[0.435,-1.85],[0.440,-1.50],[0.445,-1.20],
[0.450,-0.90],[0.455,-1.15],[0.460,-1.40],[0.465,-1.70],[0.470,-1.95],[0.475,-1.80],[0.480,-2.10],[0.485,-2.45],[0.490,-2.30],[0.495,-2.55],
[0.500,-2.22],[1.000,-2.22]
];

// kernel regression, bandwidth 0.1
const kr01: [number, number][] = [
[0.000,-0.03],[0.026,-0.22],[0.051,-0.61],[0.071,-1.00],[0.085,-1.33],[0.099,-1.72],[0.119,-2.30],[0.139,-2.88],[0.158,-3.33],[0.184,-3.82],
[0.194,-4.01],[0.214,-4.31],[0.234,-4.50],[0.248,-4.57],[0.259,-4.54],[0.279,-4.42],[0.299,-4.27],[0.319,-4.10],[0.339,-3.88],[0.358,-3.60],
[0.378,-3.33],[0.392,-3.08],[0.412,-2.60],[0.432,-2.24],[0.451,-2.02],[0.465,-1.96],[0.477,-1.97],[0.497,-2.06],[0.517,-2.15],[0.537,-2.19],
[0.590,-2.21],[0.709,-2.19],[0.758,-2.09],[0.788,-2.13],[0.828,-2.19],[0.907,-2.17],[1.000,-2.15]
];

// kernel regression, bandwidth 0.01
const kr001: [number, number][] = [
[0.000,0.14],[0.008,0.29],[0.016,0.40],[0.026,-0.03],[0.036,-0.25],[0.042,-0.22],[0.050,-0.29],[0.055,-0.14],[0.061,-0.25],[0.069,-0.55],
[0.075,-0.82],[0.081,-1.10],[0.085,-1.40],[0.091,-1.74],[0.095,-2.11],[0.099,-2.32],[0.105,-2.26],[0.115,-2.06],[0.121,-2.17],[0.129,-2.60],
[0.135,-3.03],[0.141,-3.13],[0.149,-3.33],[0.154,-3.54],[0.160,-3.18],[0.168,-2.96],[0.178,-3.11],[0.184,-3.33],[0.190,-3.82],[0.194,-4.03],
[0.200,-4.61],[0.208,-5.10],[0.214,-5.27],[0.224,-5.10],[0.230,-4.40],[0.238,-4.31],[0.244,-4.74],[0.250,-4.61],[0.257,-4.67],[0.263,-4.82],
[0.273,-4.89],[0.279,-4.74],[0.287,-4.46],[0.297,-4.25],[0.303,-4.18],[0.309,-3.75],[0.313,-3.45],[0.319,-3.54],[0.327,-3.67],[0.333,-3.93],
[0.339,-3.78],[0.347,-3.75],[0.352,-4.14],[0.358,-3.97],[0.366,-3.54],[0.372,-3.24],[0.378,-3.03],[0.386,-3.24],[0.392,-3.39],[0.398,-3.33],
[0.406,-2.75],[0.412,-2.26],[0.418,-1.83],[0.426,-1.96],[0.432,-1.74],[0.438,-1.68],[0.446,-1.40],[0.451,-1.10],[0.457,-1.19],[0.465,-1.53],
[0.471,-1.89],[0.477,-2.11],[0.485,-1.89],[0.491,-1.89],[0.497,-2.26],[0.505,-2.49],[0.511,-2.39],[0.517,-2.15],[0.525,-2.11],[0.531,-2.15],
[0.537,-2.26],[0.545,-2.21],[0.550,-2.26],[0.560,-2.21],[0.570,-2.26],[0.576,-2.15],[0.584,-2.17],[0.590,-2.32],[0.596,-2.53],[0.604,-2.39],
[0.610,-2.04],[0.616,-1.85],[0.624,-2.04],[0.630,-2.32],[0.636,-2.11],[0.644,-1.94],[0.650,-2.17],[0.656,-2.49],[0.663,-2.53],[0.669,-2.32],
[0.679,-2.11],[0.685,-1.89],[0.693,-1.85],[0.699,-2.11],[0.705,-2.36],[0.713,-2.39],[0.719,-2.11],[0.725,-1.68],[0.733,-1.57],[0.739,-1.83],
[0.745,-2.11],[0.752,-1.83],[0.758,-1.68],[0.764,-1.96],[0.772,-2.17],[0.778,-2.17],[0.784,-2.24],[0.788,-2.17],[0.794,-2.11],[0.802,-2.17],
[0.808,-1.99],[0.814,-1.94],[0.822,-2.26],[0.828,-2.43],[0.834,-2.36],[0.842,-2.04],[0.848,-1.99],[0.853,-2.17],[0.861,-2.39],[0.867,-2.17],
[0.873,-1.96],[0.881,-2.15],[0.887,-2.36],[0.893,-2.28],[0.901,-2.26],[0.907,-2.17],[0.913,-1.83],[0.921,-1.79],[0.927,-2.11],[0.933,-1.99],
[0.941,-2.11],[0.947,-1.96],[0.952,-2.17],[0.962,-2.47],[0.970,-2.47],[0.976,-2.17],[0.986,-1.85],[0.992,-1.85],[1.000,-2.39]
];

const LABEL_SIZE = 20.6;

function buildLegend() {
  const elems: any[] = [];
  const x0 = 477;
  const y0 = 497.5;
  const step = 25;
  legendLabels.forEach((lab, i) => {
    const cy = y0 + i * step;
    elems.push({
      type: "line",
      shape: { x1: 492, y1: cy, x2: 531, y2: cy },
      style: { stroke: "#000", lineWidth: 1, lineDash: legendDashed[i] ? [5, 4] : null },
    });
    elems.push({
      type: "rect",
      shape: { x: x0, y: cy - 6, width: 15, height: 12 },
      style: { fill: legendFill[i], stroke: "#000", lineWidth: 1 },
    });
    elems.push({
      type: "text",
      x: 549,
      y: cy,
      style: { text: lab, font: `${LABEL_SIZE}px "${FONT}"`, fill: "#000", verticalAlign: "middle", align: "left" },
    });
  });
  return elems;
}

export default function App() {
  const ref = useRef<HTMLDivElement>(null);
  useEffect(() => {
    if (!ref.current) return;
    const chart = echarts.init(ref.current, undefined, { renderer: "svg" });
    const textBase = { fontFamily: FONT, fontSize: LABEL_SIZE, color: "#000" };
    chart.setOption({
      animation: false,
      backgroundColor: "#ffffff",
      title: {
        text: chartTitle,
        left: 375,
        top: 35,
        textAlign: "center",
        textStyle: { fontFamily: FONT, fontSize: 24.7, fontWeight: "bold", color: "#000" },
      },
      grid: {
        left: 102,
        top: 103,
        width: 545,
        height: 470,
        show: true,
        borderColor: "#000",
        borderWidth: 1,
        backgroundColor: "transparent",
      },
      xAxis: {
        type: "value",
        min: -0.04,
        max: 1.04,
        axisLine: { show: false, onZero: false },
        splitLine: { show: false },
        axisTick: { show: true, length: 7, customValues: xTicks, lineStyle: { color: "#000", width: 1 } },
        axisLabel: { ...textBase, customValues: xTicks, margin: 21, formatter: (v: number) => v.toFixed(1) },
        name: "X",
        nameLocation: "middle",
        nameGap: 77,
        nameTextStyle: textBase,
      },
      yAxis: {
        type: "value",
        min: -7.52,
        max: 2.535,
        axisLine: { show: false, onZero: false },
        splitLine: { show: false },
        axisTick: { show: true, length: 7, customValues: yTicks, lineStyle: { color: "#000", width: 1 } },
        axisLabel: {
          ...textBase,
          customValues: yTicks,
          rotate: 90,
          margin: 25,
          formatter: (v: number) => String(v).replace("-", "\u2212"),
        },
        name: "Y",
        nameLocation: "middle",
        nameGap: 75,
        nameRotate: 90,
        nameTextStyle: textBase,
      },
      series: [
        {
          name: "Observations",
          type: "scatter",
          data: noisyObsA.concat(noisyObsB),
          symbol: "circle",
          symbolSize: 2.5,
          itemStyle: { color: "#000" },
          silent: true,
          large: false,
        },
        {
          name: "Truth",
          type: "line",
          data: truthPath,
          showSymbol: false,
          lineStyle: { color: "#000", width: 1.3 },
          silent: true,
        },
        {
          name: "KR (0.1)",
          type: "line",
          data: kr01,
          showSymbol: false,
          smooth: 0.3,
          lineStyle: { color: "#ff0000", width: 4, cap: "round", join: "round" },
          silent: true,
        },
        {
          name: "KR (0.01)",
          type: "line",
          data: kr001,
          showSymbol: false,
          smooth: 0.3,
          lineStyle: { color: "#0000ff", width: 4, cap: "round", join: "round" },
          silent: true,
        },
      ],
      graphic: buildLegend(),
    });
    return () => chart.dispose();
  }, []);
  return <div ref={ref} style={{ position: "absolute", left: 0, top: 0, width: 700, height: 700 }} />;
}
